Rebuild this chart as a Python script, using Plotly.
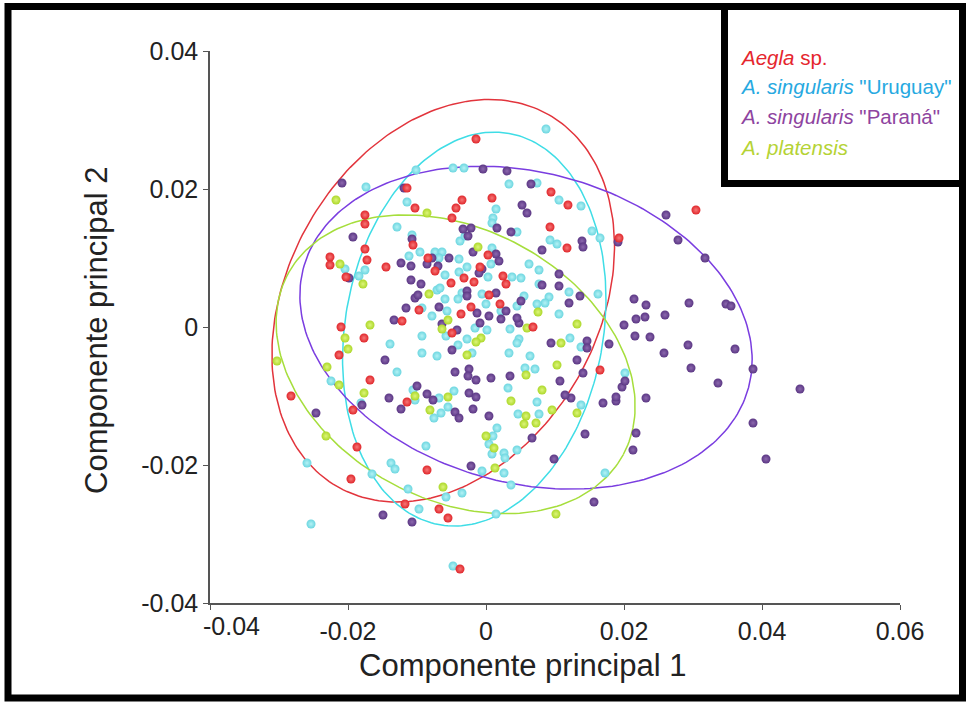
import numpy as np
import plotly.graph_objects as go

# ---------------- data ----------------
aegla_x = [-0.00145, -0.01145, -0.01029, -0.00348, -0.00435, -0.00493, 0.00087, -0.01754, -0.01754, -0.01754,
           -0.01725, -0.01449, -0.02261, -0.02261, -0.02029, -0.01058, -0.00841, -0.00739, -0.00507, -0.00319,
           0.00029, -0.00087, 0.00290, 0.00203, 0.00043, -0.00362, -0.00217, -0.01217, -0.02101, -0.01768,
           -0.00493, -0.00971, 0.00942, 0.01188, 0.00928, 0.01174, 0.01928, 0.03043, 0.00246, 0.00681,
           -0.00174, -0.01681, -0.01145, -0.00855, 0.01652, -0.02130, -0.02826, -0.01928, -0.01870, -0.01957,
           -0.01174, -0.00681, -0.00551, -0.00377]
aegla_y = [0.02725, 0.02014, 0.01725, 0.01841, 0.01725, 0.01580, 0.01870, 0.01623, 0.01493, 0.01130,
           0.00971, 0.00870, 0.01014, 0.00899, 0.00725, 0.01188, 0.01000, 0.00812, 0.00638, 0.00710,
           0.01043, 0.00870, 0.00623, 0.00333, 0.00464, 0.00188, 0.00290, 0.00087, 0.00000, -0.00159,
           -0.00087, 0.00246, 0.01957, 0.01768, 0.01449, 0.01145, 0.01290, 0.01696, 0.00739, 0.00000,
           0.00652, -0.00768, -0.01087, -0.02072, -0.00623, -0.00406, -0.01000, -0.01203, -0.01739, -0.02203,
           -0.02565, -0.02638, -0.02768, -0.03507]

uruguay_x = [0.00870, -0.01014, -0.00478, -0.00319, -0.01739, -0.01145, 0.00333, 0.00739, 0.01058, 0.01377,
             0.00145, 0.00101, 0.00087, -0.01290, -0.01072, -0.00377, -0.00304, 0.00087, 0.00449, 0.00928,
             0.01029, 0.01536, 0.01652, -0.01116, -0.00957, -0.00739, -0.00638, -0.00681, -0.00391, -0.00594,
             -0.00391, 0.00072, -0.00275, 0.00029, 0.00623, 0.00768, 0.00377, 0.00507, 0.00768, -0.00710,
             -0.00667, -0.00348, -0.00058, -0.00594, -0.00406, 0.00000, 0.00551, 0.00913, 0.00855, 0.00739,
             0.01203, 0.01623, 0.00449, -0.02043, -0.01841, -0.01754, -0.00928, -0.00783, -0.00565, -0.00928,
             -0.00580, -0.00406, -0.01391, -0.00928, -0.00710, -0.00203, -0.00275, 0.00014, -0.00159, 0.00217,
             0.01058, 0.00348, 0.00478, 0.00449, 0.00333, 0.00638, 0.01217, 0.01377, 0.00565, 0.00710,
             0.00319, 0.00739, 0.00464, 0.00768, 0.01377, 0.02014, 0.00159, 0.00101, 0.00043, 0.00087,
             0.00449, 0.00261, 0.00275, 0.00261, -0.00058, 0.00362, 0.01725, 0.00145, -0.01290, -0.01058,
             -0.01029, -0.00681, -0.00464, -0.00551, -0.00652, -0.00754, -0.00870, -0.01377, -0.01319, -0.01652,
             -0.02594, -0.01130, -0.00971, -0.00580, -0.00348, -0.02536, -0.00478, -0.02246, -0.01812]
uruguay_y = [0.02870, 0.02275, 0.02304, 0.02304, 0.02029, 0.01812, 0.02072, 0.02087, 0.01841, 0.01754,
             0.01710, 0.01580, 0.01507, 0.01449, 0.01333, 0.01246, 0.01319, 0.01145, 0.01377, 0.01261,
             0.01203, 0.01391, 0.01290, 0.01029, 0.01087, 0.01087, 0.01087, 0.01000, 0.00986, 0.00754,
             0.00797, 0.00913, 0.00870, 0.00725, 0.00913, 0.00826, 0.00725, 0.00710, 0.00623, 0.00536,
             0.00565, 0.00493, 0.00478, 0.00406, 0.00406, 0.00333, 0.00449, 0.00435, 0.00348, 0.00333,
             0.00507, 0.00478, 0.00304, 0.00841, 0.00739, 0.00826, 0.00275, 0.00159, 0.00232, -0.00130,
             -0.00130, -0.00261, -0.00246, -0.00377, -0.00420, -0.00377, -0.00174, -0.00043, -0.00014, 0.00232,
             0.00188, -0.00029, -0.00174, -0.00232, -0.00377, -0.00420, -0.00159, -0.00290, -0.00594, -0.00609,
             -0.00884, -0.01087, -0.01261, -0.01261, -0.01130, -0.00667, -0.01464, -0.01580, -0.01696, -0.01841,
             -0.01783, -0.01826, -0.01899, -0.02116, -0.02087, -0.02290, -0.02116, -0.02710, -0.00652, -0.00913,
             -0.01058, -0.01029, -0.00928, -0.01159, -0.01246, -0.01319, -0.01725, -0.01971, -0.02058, -0.02130,
             -0.01971, -0.02348, -0.02638, -0.02464, -0.02406, -0.02855, -0.03464, -0.00783, -0.01101]

parana_x = [-0.02087, -0.01928, -0.00043, 0.00304, -0.01188, -0.00333, -0.00217, -0.00261, 0.00159, -0.00188,
            0.00145, 0.00188, -0.00536, -0.00696, -0.01072, -0.01232, -0.01087, -0.00855, -0.00783, -0.01087,
            -0.00942, -0.00058, -0.00101, 0.00145, -0.00275, -0.00275, -0.00681, -0.01029, -0.00986, -0.01159,
            -0.01333, -0.00638, -0.00130, -0.00087, 0.00043, -0.00420, 0.00217, -0.01986, 0.00652, 0.00522,
            0.00594, 0.00362, 0.01391, 0.01406, 0.00812, 0.01913, 0.01058, 0.00812, 0.01058, 0.01362,
            0.01203, 0.00507, 0.02145, 0.02609, 0.02783, 0.03174, 0.02319, 0.02942, 0.03478, 0.03551,
            0.02000, 0.02174, 0.02304, 0.02594, 0.02159, 0.02377, 0.00290, 0.00478, 0.00942, 0.01464,
            0.01464, 0.02580, 0.02928, 0.03609, 0.03870, 0.02971, 0.03362, 0.04551, 0.03870, 0.04058,
            0.02319, 0.01696, 0.01884, 0.01884, 0.01971, 0.02014, 0.02174, 0.02130, 0.01435, 0.01565,
            0.00986, 0.01232, 0.01145, 0.01406, 0.01319, 0.01783, 0.01072, 0.00667, 0.00348, 0.00072,
            0.00043, -0.00493, -0.01464, -0.00449, -0.00246, -0.00261, -0.00145, -0.01000, -0.00855, -0.00768,
            -0.01406, -0.01232, -0.01797, -0.00246, -0.00145, -0.00449, -0.00391, -0.00188, -0.00217, -0.02464,
            -0.01493, -0.01072, 0.00449]
parana_y = [0.02087, 0.01304, 0.02290, 0.02261, 0.02014, 0.01420, 0.01435, 0.01319, 0.01435, 0.01087,
            0.01058, 0.00957, 0.01000, 0.00884, 0.01275, 0.00928, 0.00884, 0.00913, 0.01000, 0.00681,
            0.00623, 0.00841, 0.00783, 0.00493, 0.00522, 0.00449, 0.00290, 0.00420, 0.00464, 0.00275,
            0.00101, 0.00043, 0.00203, 0.00058, 0.00159, -0.00043, 0.00116, 0.00710, 0.02072, 0.01768,
            0.01652, 0.01377, 0.01246, 0.01159, 0.01116, 0.01232, 0.00768, 0.00609, 0.00594, 0.00449,
            0.00348, 0.00377, 0.00406, 0.01623, 0.01261, 0.01000, 0.00319, 0.00348, 0.00333, 0.00304,
            0.00029, 0.00116, 0.00145, 0.00174, -0.00130, -0.00145, 0.00232, 0.00058, -0.00232, -0.00203,
            -0.00304, -0.00377, -0.00261, -0.00319, -0.00609, -0.00594, -0.00812, -0.00899, -0.01391, -0.01913,
            -0.01029, -0.01101, -0.01072, -0.01014, -0.00870, -0.00783, -0.01536, -0.01783, -0.01551, -0.02536,
            -0.01913, -0.01029, -0.00986, -0.00667, -0.00478, -0.00246, -0.00783, -0.01609, -0.00710, -0.00739,
            -0.01290, -0.00333, -0.00478, -0.00652, -0.00609, -0.00710, -0.00768, -0.00855, -0.00971, -0.01058,
            -0.01029, -0.01188, -0.01130, -0.00957, -0.01014, -0.01232, -0.01319, -0.01188, -0.02014, -0.01246,
            -0.02725, -0.02826, 0.00130]

platensis_x = [-0.02174, -0.00855, -0.00116, -0.02116, -0.01783, -0.00826, -0.00551, -0.00638, -0.02043, -0.02000,
               -0.01681, -0.00072, -0.00145, -0.00275, 0.00754, 0.01319, 0.00594, 0.01087, 0.01029, 0.00580,
               0.00812, 0.00362, 0.00957, 0.01319, 0.00580, 0.00551, 0.00725, 0.00000, 0.00116, 0.00130,
               0.01014, -0.03029, -0.02304, -0.02130, -0.01768, -0.02319, -0.01029, -0.00551, -0.00812, -0.00623]
platensis_y = [0.01841, 0.01652, 0.01159, 0.00913, 0.00623, 0.00478, 0.00101, -0.00029, -0.00159, -0.00319,
               0.00029, -0.00159, -0.00217, -0.00406, 0.00217, 0.00043, -0.00014, -0.00232, -0.00551, -0.00696,
               -0.00913, -0.01072, -0.01203, -0.01246, -0.01290, -0.01406, -0.01391, -0.01580, -0.01754, -0.02043,
               -0.02710, -0.00493, -0.00580, -0.00841, -0.00957, -0.01580, -0.01000, -0.01014, -0.01203, -0.02319]

# confidence ellipses: centre x, centre y, semi-major, semi-minor, angle (deg)
ellipse_aegla = [-0.0062, 0.0038, 0.0310, 0.0225, 60.5]
ellipse_uruguay = [-0.0017, -0.0003, 0.0288, 0.0187, 79.9]
ellipse_parana = [0.0058, -0.0001, 0.0334, 0.0225, -15.1]
ellipse_platensis = [-0.0044, -0.0054, 0.0276, 0.0196, -28.3]

x_ticks = [-0.04, -0.02, 0, 0.02, 0.04, 0.06]
x_tick_text = ["", "-0.02", "0", "0.02", "0.04", "0.06"]
y_ticks = [-0.04, -0.02, 0, 0.02, 0.04]
y_tick_text = ["-0.04", "-0.02", "0", "0.02", "0.04"]

# ---------------- styling ----------------
FONT = "Liberation Sans, Arial, sans-serif"
series = [
    # name, x, y, point colour, highlight, ellipse params, ellipse colour
    ("uruguay", uruguay_x, uruguay_y, "#6cd6e0", "#b4f2f5", ellipse_uruguay, "#3fdde6"),
    ("parana", parana_x, parana_y, "#5b3784", "#8c68ae", ellipse_parana, "#7a3de0"),
    ("platensis", platensis_x, platensis_y, "#acd82a", "#ddf57a", ellipse_platensis, "#a6de3c"),
    ("aegla", aegla_x, aegla_y, "#e0262b", "#f67676", ellipse_aegla, "#e2343c"),
]


def ellipse_xy(p, n=240):
    cx, cy, a, b, ang = p
    t = np.linspace(0, 2 * np.pi, n)
    th = np.deg2rad(ang)
    ex = cx + a * np.cos(t) * np.cos(th) - b * np.sin(t) * np.sin(th)
    ey = cy + a * np.cos(t) * np.sin(th) + b * np.sin(t) * np.cos(th)
    return ex, ey


fig = go.Figure()
ell_order = [series[3], series[0], series[1], series[2]]
for name, xs, ys, col, hi, ep, ecol in ell_order:
    ex, ey = ellipse_xy(ep)
    fig.add_trace(go.Scatter(x=ex, y=ey, mode="lines", line=dict(color=ecol, width=1.5),
                             showlegend=False, hoverinfo="skip"))
for name, xs, ys, col, hi, ep, ecol in series:
    fig.add_trace(go.Scatter(x=xs, y=ys, mode="markers", showlegend=False,
                             marker=dict(size=9, color=col, line=dict(width=0),
                                         gradient=dict(type="radial", color=hi))))

# plot area geometry (px)
W, H = 966, 702
ML, MR, MT, MB = 210, 66, 51, 99
PW, PH = W - ML - MR, H - MT - MB


def px(xp):
    return (xp - ML) / PW


def py(yp):
    return (H - MB - yp) / PH


fig.update_layout(
    width=W, height=H,
    margin=dict(l=ML, r=MR, t=MT, b=MB, pad=0),
    paper_bgcolor="white", plot_bgcolor="white",
    font=dict(family=FONT, color="#222222"),
    xaxis=dict(range=[-0.04, 0.06], tickvals=x_ticks, ticktext=x_tick_text,
               showgrid=False, zeroline=False, showline=True, linecolor="#555555", linewidth=1.5,
               ticks="outside", ticklen=5, tickcolor="#555555", tickwidth=1.2,
               tickfont=dict(size=25, color="#222222", family=FONT)),
    yaxis=dict(range=[-0.04, 0.04], tickvals=y_ticks, ticktext=y_tick_text,
               showgrid=False, zeroline=False, showline=True, linecolor="#555555", linewidth=1.5,
               ticks="outside", ticklen=5, tickcolor="#555555", tickwidth=1.2,
               tickfont=dict(size=25, color="#222222", family=FONT)),
)

ann = [
    dict(x=x_ticks[0], xref="x", y=0, yref="paper", text="-0.04", showarrow=False,
         xanchor="center", yanchor="top", xshift=21, yshift=-7,
         font=dict(size=25, color="#222222", family=FONT)),
    dict(x=px(522), y=py(665), xref="paper", yref="paper", text="Componente principal 1",
         showarrow=False, xanchor="center", yanchor="middle",
         font=dict(size=31, color="#222222", family=FONT)),
    dict(x=px(96), y=py(331), xref="paper", yref="paper", text="Componente principal 2",
         showarrow=False, xanchor="center", yanchor="middle", textangle=-90,
         font=dict(size=31, color="#222222", family=FONT)),
]
legend_items = [
    ("<i>Aegla</i> sp.", "#e5262e", 58),
    ("<i>A. singularis</i> \"Uruguay\"", "#27a9e1", 87),
    ("<i>A. singularis</i> \"Paraná\"", "#8e44a0", 117),
    ("<i>A. platensis</i>", "#b5d335", 147),
]
for txt, c, yy in legend_items:
    ann.append(dict(x=px(738), y=py(yy), xref="paper", yref="paper", text=txt, showarrow=False,
                    xanchor="left", yanchor="middle", font=dict(size=20.5, color=c, family=FONT)))
fig.update_layout(annotations=ann)

shapes = [
    # outer frame
    dict(type="rect", xref="paper", yref="paper", x0=px(8), x1=px(962.5), y0=py(698), y1=py(6.5),
         line=dict(color="black", width=7), fillcolor="rgba(0,0,0,0)", layer="above"),
    # legend box
    dict(type="rect", xref="paper", yref="paper", x0=px(724.5), x1=px(962.5), y0=py(183.5), y1=py(6.5),
         line=dict(color="black", width=7), fillcolor="rgba(0,0,0,0)", layer="above"),
]
fig.update_layout(shapes=shapes)

fig.write_html("out.html")
